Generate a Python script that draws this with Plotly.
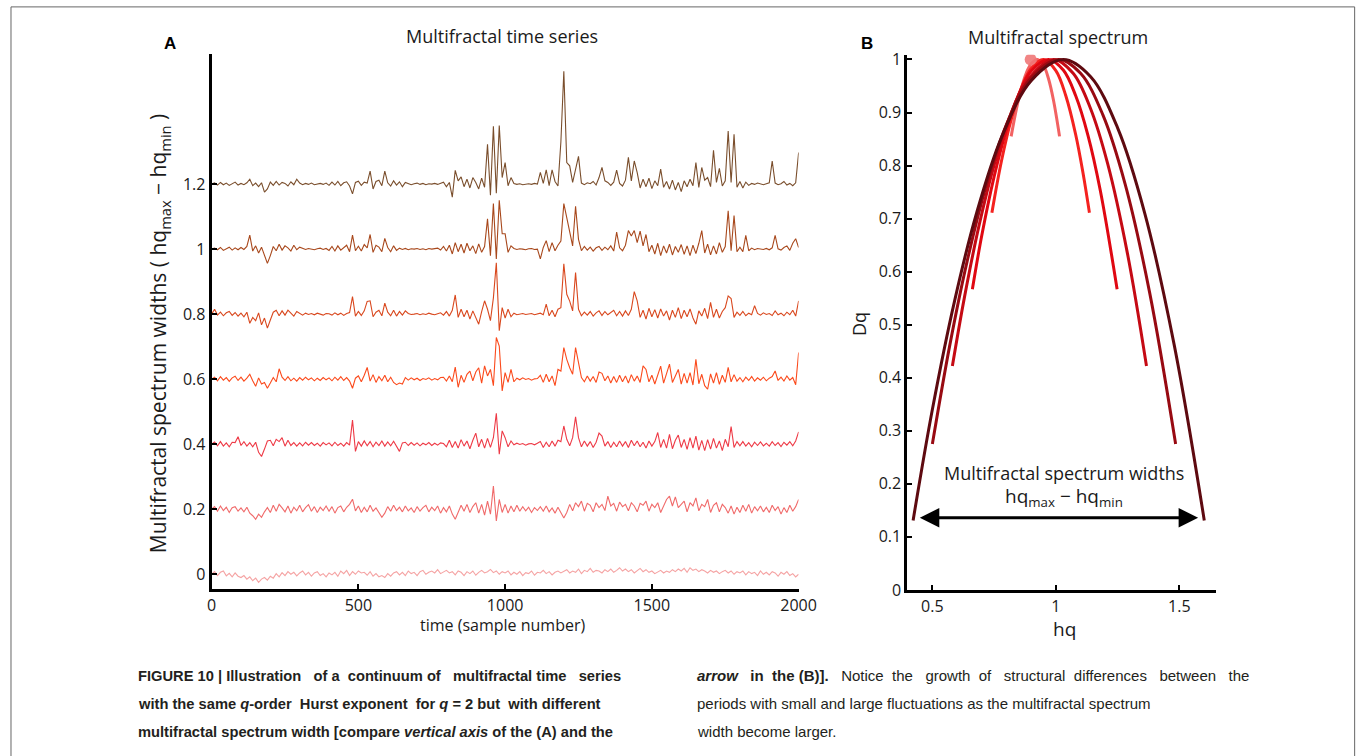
import plotly.graph_objects as go

# reference canvas is 1356x756; the page is photographed slightly reduced, so the graph is drawn a bit
# larger and every position (given in reference pixels) is mapped through the measured page scale.
W_FIG, H_FIG = 1376, 766
SX, OX = 0.985, 2.0
SY, OY = 0.981, 5.1

# ---------------- Panel A data: time series (deviation from offset, in 1/1000 units) -------------
sample_step = 10
t_samples = list(range(0, 2001, sample_step))
offsets = [0.0, 0.2, 0.4, 0.6, 0.8, 1.0, 1.2]

s00 = [0, 8, -4, 6, 10, -5, 3, -8, 4, -6, -10, -4, -15, -8, -20, -12, -25, -15, -10, -18,
       -6, -12, 2, -8, 5, -4, 8, 0, 6, -5, 4, 10, -2, 6, -6, 4, 8, -4, 2, -8,
       4, -2, 6, -6, 10, 2, 12, -4, 8, 0, 10, 4, 6, -3, 8, -6, 2, -8, -4, -10,
       2, -6, 4, 8, -2, 6, -4, 10, 2, 6, -4, 8, 12, 0, 6, 10, 4, 14, 2, 8,
       12, 4, 8, -2, 10, 6, -4, 8, 2, 10, -3, 6, 12, 4, 8, 15, 5, 10, 0, 8,
       4, 10, -2, 6, 0, 8, -4, 5, 2, 10, -3, 6, 4, 12, 2, 8, -2, 6, 10, 4,
       8, 14, 4, 10, 6, 16, 2, 12, 8, 18, 6, 12, 10, 4, 14, 8, 16, 6, 12, 20,
       10, 16, 8, 14, 4, 12, 18, 8, 14, 6, 10, 2, 8, 12, 4, 10, 6, 14, 8, 16,
       10, 18, 6, 20, 12, 16, 8, 14, 10, 4, 12, 6, 10, 2, 8, 12, 4, 10, 0, 8,
       4, 10, -2, 8, 2, 6, -4, 10, 0, 6, -2, 8, 4, -6, 6, 0, 8, -4, 2, -8, 0]

s02 = [0, 8, -6, 10, -4, 6, -10, 5, 8, -6, 4, -8, 6, -12, -20, -31, -15, -25, -8, 5,
       -10, 12, -6, 15, 4, -8, 10, -12, 6, -5, 12, -8, 5, 14, -6, 8, -10, 6, -4, 10,
       -6, 8, -12, 5, 10, -8, 6, 15, 31, -5, 10, -10, 6, -8, 12, -6, 4, -10, -25, -12,
       8, -6, 12, -4, 6, -8, 10, -5, 4, -10, 8, -6, 5, 12, -8, 6, -4, 10, -12, 5,
       -8, 10, -15, -31, -10, 12, -6, 15, -10, 8, 20, -12, 15, -18, 25, -15, 71, -36, 30, -10,
       15, -12, 10, -8, 12, -6, 8, -5, 6, -10, 5, -4, 8, -6, 10, -8, 4, -12, 6, -10,
       -27, -10, 15, -5, 20, 8, 25, -6, 18, 12, -8, 20, 5, 15, -4, 40, 10, 18, -6, 22,
       8, 15, -5, 20, 10, -8, 18, 12, 25, -6, 15, 5, 20, -10, 12, 30, 40, 10, 38, 5,
       15, 25, -8, 20, 10, 35, -5, 15, 8, 30, -10, 12, 20, -8, 15, 5, -12, 10, -15, 6,
       -10, 12, -6, 15, -12, 8, -5, 10, -8, 6, -10, 12, -4, 8, -15, 5, -10, 12, -6, 8, 30]

s04 = [0, 7, -5, 8, -6, 4, -8, 6, 5, 23, -4, 8, -6, 5, -8, 6, -25, -38, -15, 10,
       12, -5, 15, 8, 20, -6, 12, -4, 5, -6, 4, -5, 6, -3, 5, -4, 3, -6, 5, -2,
       4, -5, 6, -4, 3, -6, 5, -3, 74, -22, 8, -6, 10, -5, 8, -8, 6, -4, 10, -6,
       7, -5, 9, -8, -22, 4, 6, -4, 5, -3, 4, -5, 3, -2, 5, -4, 3, -3, 4, 2,
       -8, 12, -10, 8, -12, 14, -6, 10, -14, 12, 34, -8, 15, -12, 18, -10, 20, 95, -31, 41,
       20, -8, 10, -2, 3, -1, 2, -3, 1, 2, -2, 3, 8, -10, 6, -8, 10, -6, 12, 8,
       56, 15, -5, 20, 84, 20, -8, 10, -6, 8, -10, 6, 34, 25, -6, 8, -10, 6, -8, 10,
       -6, 8, -10, 12, -5, 10, -8, 6, -12, 10, -6, 8, 36, -10, 15, -12, 30, -14, 12, 28,
       -10, 15, -16, 20, -12, 25, -18, 12, -20, 14, -15, 18, -12, 10, -20, 15, -8, 54, -10, 8,
       -5, 8, -6, 5, -8, 6, -4, 7, -5, 3, -6, 8, -4, 5, -7, 6, -3, 8, -5, 10, 38]

s06 = [0, 6, -5, 8, -3, 5, -7, 4, 9, -4, 6, -6, 3, 15, -5, -22, 4, -15, -10, -28,
       -12, 5, -8, 32, 6, -4, 8, -5, 3, -6, 5, -3, 6, -2, 4, -5, 3, -4, 5, -2,
       4, -5, 6, -3, 8, -4, 5, -6, -28, 3, 10, -8, 12, 36, -6, 14, -10, 8, -5, 12,
       -8, 6, -10, -17, -12, -15, 5, -3, 4, -2, 3, -4, 2, -1, 4, -3, 2, -2, 5, 6,
       -6, 10, -8, 37, -25, 12, -10, 15, 25, -5, 22, 35, -12, 41, 10, 30, -20, 128, 102, -36,
       20, -10, 30, -8, 3, -2, 4, -1, 2, -3, 1, 2, 12, -10, 15, -8, 10, -20, 30, 25,
       97, 61, 35, 15, 97, 55, 5, -8, 10, -6, 8, -10, 22, 18, -5, 10, -12, 8, -10, 12,
       -8, 10, -12, 14, -6, 10, -10, 41, 30, -8, 12, -15, 10, 40, -12, 15, 46, -10, 8, 30,
       -15, 18, -12, 20, -18, 61, -14, 15, -20, -31, 16, -12, 20, -16, 12, -10, 36, -8, 14, -6,
       5, -8, 6, -4, 8, -6, 4, -3, 6, -5, 3, 8, 25, -4, 6, -6, 10, -3, 5, -17, 82]

s08 = [0, 15, -3, 6, -5, 4, 8, -4, 5, -6, 3, -8, 6, -28, -10, -20, 4, -33, -12, -43,
       -18, 6, 12, -5, 10, -3, 12, 4, -6, 8, 2, -3, 3, -1, 2, -2, 3, 0, -3, 2,
       1, -3, 4, -2, 3, -4, 2, 5, 54, -6, 8, -4, 10, 39, 41, -8, 6, 12, -5, 34,
       6, -5, 12, -6, 8, -3, 10, 2, -1, 0, 2, -2, 1, -1, 3, 0, -2, 1, 4, -3,
       8, -6, 12, 59, -10, 15, -8, 12, -15, 10, -12, -31, 8, 41, 15, -20, 50, 158, -51, 20,
       -12, 15, -8, 3, -2, 1, 2, -1, 0, 2, -2, 1, 3, -2, 31, -5, 12, -8, 15, 20,
       155, 61, 40, 10, 128, 15, -5, 6, -3, 8, -6, 4, 10, -4, 8, -2, 6, 12, -5, 8,
       -6, 10, -4, 15, 69, 41, -10, 12, -15, 18, -8, 14, -12, 16, -6, 10, -18, 12, -10, 20,
       -14, 12, -8, 16, -12, -31, 10, -6, 18, -14, 36, -10, 15, -12, 8, 20, 56, 48, -10, 6,
       -4, 8, -5, 3, -2, 26, 2, -3, 4, -1, 2, -4, 10, -2, 3, -5, 6, -2, 12, -6, 41]

s10 = [0, 3, -2, 5, -4, 2, 6, -3, 4, -2, 5, -1, 8, 43, -6, 10, -12, 6, -18, -44,
       -20, 8, -5, 15, -3, 10, 4, -6, 12, -2, 6, 2, -1, 2, 0, -2, 1, 3, -1, 2,
       -4, 8, -6, 10, -3, 6, 12, -8, 43, -5, 9, -6, 14, 4, 45, -10, 12, 6, -8, 33,
       5, -8, 10, -4, 3, -1, 2, -2, 1, 0, 2, -1, 1, -2, 2, 0, 1, 3, -3, 8,
       -6, 12, -15, 20, -8, 15, -12, 18, -5, 10, -14, 16, -10, 8, 93, -20, 140, -30, 150, 47,
       47, -10, 10, 2, -1, 1, 0, -2, 1, 2, -1, 0, -30, 5, 26, -8, 20, -5, 12, 25,
       140, 93, 47, 10, 132, 30, -5, 8, -3, 6, -6, 4, 8, -4, 6, -2, 10, -6, 52, 4,
       -5, 12, 57, 40, 57, 20, 55, 10, 45, -8, 12, -15, 18, -20, 10, -12, 15, -18, 8, -10,
       14, -16, 10, -20, 12, -14, 18, 57, -12, 15, -18, 10, -15, 20, -10, 8, 118, -5, 103, -8,
       6, -8, 42, -5, 3, -2, 2, 0, -1, 2, -2, 4, 42, 1, -3, 5, 10, -4, 18, 32, 5]

s12 = [0, 4, -3, 5, -2, 3, -4, 2, 6, -3, 2, -2, 4, 15, -5, 3, -8, 4, -25, -15,
       6, -4, 8, -3, 5, 2, -6, 7, -2, 15, 3, -2, 2, -1, 3, -2, 1, 2, -1, 3,
       -4, 6, -3, 8, -5, 4, 7, -6, -30, 5, 9, -4, 6, 3, 40, -15, 8, 12, -5, 40,
       4, -6, 10, -3, 7, -8, 5, 2, -2, 1, 3, -1, 2, -2, 1, 0, 2, -1, 3, 6,
       -8, 5, -40, 42, 10, 22, -8, 15, -12, 20, 5, -15, 18, -10, 122, -34, 178, -28, 180, 20,
       66, -5, 20, 2, -1, 1, -2, 0, 1, -1, 2, 0, 36, 2, 44, -5, 44, 8, -6, 130,
       347, 66, 56, 5, 50, 85, 3, -2, 4, 1, 8, -3, 20, 51, 10, 5, -4, 6, 43, 2,
       -6, 12, 82, 10, 71, 35, -12, 15, -8, 18, -14, 10, -5, 46, -10, 8, -15, 12, -18, 5,
       -23, 10, -8, 15, -5, 66, -10, 51, 12, 20, -8, 104, 5, 48, -6, 10, 163, 5, 153, -10,
       8, -12, 6, -4, 2, -1, 3, 0, -2, 1, 4, 71, 3, -2, 1, 8, -3, 2, -5, 4, 97]

series_dev = [s00, s02, s04, s06, s08, s10, s12]
series_colors = ["#f5a3a3", "#f06a6a", "#ee3a46", "#fb4a1c", "#d9481e", "#a8481c", "#7a4e2c"]

x_ticks_a = [0, 500, 1000, 1500, 2000]
y_ticks_a = [0, 0.2, 0.4, 0.6, 0.8, 1.0, 1.2]
y_ticktext_a = ["0", "0.2", "0.4", "0.6", "0.8", "1", "1.2"]

# ---------------- Panel B data: multifractal spectra -------------
hq_c1 = [0.819, 0.84, 0.86, 0.88, 0.90, 0.925, 0.95, 0.97, 0.99, 1.015]
dq_c1 = [0.855, 0.906, 0.945, 0.974, 0.992, 1.0, 0.989, 0.964, 0.924, 0.855]
hq_c2 = [0.741, 0.78, 0.82, 0.86, 0.90, 0.95, 1.0, 1.04, 1.08, 1.11, 1.136]
dq_c2 = [0.711, 0.809, 0.888, 0.946, 0.983, 1.0, 0.979, 0.932, 0.859, 0.786, 0.711]
hq_c3 = [0.662, 0.70, 0.75, 0.80, 0.85, 0.90, 0.97, 1.03, 1.08, 1.13, 1.18, 1.248]
dq_c3 = [0.567, 0.668, 0.779, 0.868, 0.934, 0.978, 1.0, 0.980, 0.932, 0.857, 0.753, 0.567]
hq_c4 = [0.581, 0.63, 0.69, 0.75, 0.81, 0.88, 0.99, 1.07, 1.14, 1.21, 1.29, 1.367]
dq_c4 = [0.422, 0.552, 0.689, 0.801, 0.888, 0.958, 1.0, 0.974, 0.908, 0.803, 0.634, 0.422]
hq_c5 = [0.50, 0.57, 0.64, 0.72, 0.80, 0.89, 1.01, 1.10, 1.19, 1.28, 1.38, 1.485]
dq_c5 = [0.275, 0.460, 0.618, 0.766, 0.877, 0.960, 1.0, 0.974, 0.896, 0.766, 0.560, 0.275]
hq_c6 = [0.422, 0.50, 0.59, 0.68, 0.78, 0.90, 1.03, 1.14, 1.25, 1.36, 1.48, 1.601]
dq_c6 = [0.131, 0.340, 0.545, 0.712, 0.853, 0.960, 1.0, 0.968, 0.871, 0.710, 0.460, 0.131]
spectra = [(hq_c1, dq_c1), (hq_c2, dq_c2), (hq_c3, dq_c3), (hq_c4, dq_c4), (hq_c5, dq_c5), (hq_c6, dq_c6)]
spectrum_colors = ["#f26262", "#f4221f", "#e00812", "#c50a14", "#980a12", "#5e0a10"]
mono_hq = [0.898]
mono_dq = [1.0]

x_ticks_b = [0.5, 1, 1.5]
y_ticks_b = [0, 0.1, 0.2, 0.3, 0.4, 0.5, 0.6, 0.7, 0.8, 0.9, 1.0]
y_ticktext_b = ["0", "0.1", "0.2", "0.3", "0.4", "0.5", "0.6", "0.7", "0.8", "0.9", "1"]

arrow_left_hq, arrow_right_hq, arrow_dq = 0.443, 1.576, 0.136

# ---------------- Figure -------------
fig = go.Figure()
for off, dev, col in zip(offsets, series_dev, series_colors):
    fig.add_trace(go.Scatter(x=t_samples, y=[off + d / 1000.0 for d in dev], mode="lines",
                             line=dict(color=col, width=1.1), xaxis="x", yaxis="y",
                             hoverinfo="skip"))

for (hq, dq), col in zip(spectra, spectrum_colors):
    fig.add_trace(go.Scatter(x=hq, y=dq, mode="lines", line=dict(color=col, width=3, shape="spline"),
                             xaxis="x2", yaxis="y2", hoverinfo="skip"))
fig.add_trace(go.Scatter(x=mono_hq, y=mono_dq, mode="markers",
                         marker=dict(color="rgba(240,120,120,0.9)", size=12),
                         xaxis="x2", yaxis="y2", hoverinfo="skip"))


def px(x):
    return ((x - OX) / SX) / W_FIG


def py(y):
    return 1 - ((y - OY) / SY) / H_FIG


FONT = "Open Sans"
axis_common = dict(showline=True, linewidth=3, linecolor="black", ticks="inside",
                   ticklen=5, tickwidth=2, tickcolor="black", showgrid=False, zeroline=False,
                   tickfont=dict(family=FONT, size=16, color="#1a1a1a"), mirror=False)

fig.update_layout(
    width=W_FIG, height=H_FIG, margin=dict(l=0, r=0, t=0, b=0),
    paper_bgcolor="white", plot_bgcolor="white", showlegend=False,
    xaxis=dict(domain=[px(209), px(797)], range=[0, 2000], tickvals=x_ticks_a,
               anchor="y", **axis_common),
    yaxis=dict(domain=[py(590), py(52)], range=[-0.046, 1.601], tickvals=y_ticks_a,
               ticktext=y_ticktext_a, anchor="x", **axis_common),
    xaxis2=dict(domain=[px(906), px(1215)], range=[0.399, 1.648], tickvals=x_ticks_b,
                anchor="y2", **axis_common),
    yaxis2=dict(domain=[py(590.7), py(53)], range=[0, 1.009], tickvals=y_ticks_b,
                ticktext=y_ticktext_b, anchor="x2", **axis_common),
)

ann = []
def text(x, y, s, size, family=FONT, angle=0, xanchor="center", color="#1a1a1a"):
    ann.append(dict(x=px(x), y=py(y), xref="paper", yref="paper", text=s, showarrow=False,
                    xanchor=xanchor, yanchor="middle", textangle=angle,
                    font=dict(family=family, size=size, color=color)))

text(167, 42, "<b>A</b>", 17, family="Liberation Sans", color="black")
text(866, 42, "<b>B</b>", 17, family="Liberation Sans", color="black")
text(500, 34, "Multifractal time series", 18)
text(1057, 35, "Multifractal spectrum", 18)
text(500, 626, "time (sample number)", 16)
text(157, 333, "Multifractal spectrum widths ( hq<sub>max</sub> − hq<sub>min</sub> )", 21, angle=-90)
text(1063, 630, "hq", 19)
text(858, 324, "Dq", 18, angle=-90)
text(1063, 473, "Multifractal spectrum widths", 18)
text(1063, 497, "hq<sub>max</sub> − hq<sub>min</sub>", 19)

# double-headed arrow in panel B
ann.append(dict(x=arrow_right_hq, y=arrow_dq, ax=arrow_left_hq, ay=arrow_dq,
                xref="x2", yref="y2", axref="x2", ayref="y2", text="", showarrow=True,
                arrowhead=2, arrowside="end+start", arrowsize=1.3, arrowwidth=3,
                arrowcolor="black"))

cap_font = "Liberation Sans"
cap_col = "#231f20"
S = "&nbsp; "
S2 = "&nbsp;&nbsp; "
text(133, 677, "<b>FIGURE 10 | Illustration" + S2 + "of a" + S + "continuum of" + S2 + "multifractal time" + S2 + "series</b>", 14.7,
     family=cap_font, xanchor="left", color=cap_col)
text(133, 705, "<b>with the same <i>q</i>-order" + S + "Hurst exponent" + S + "for <i>q</i> = 2 but" + S + "with different</b>", 14.7,
     family=cap_font, xanchor="left", color=cap_col)
text(133, 733, "<b>multifractal spectrum width [compare <i>vertical axis</i> of the (A) and the</b>", 14.7,
     family=cap_font, xanchor="left", color=cap_col)
text(693, 677, "<b><i>arrow</i>" + S2 + "in" + S + "the (B)].</b>" + S2 + "Notice" + S + "the" + S2 + "growth"
     + S + "of" + S2 + "structural" + S + "differences" + S2 + "between" + S2 + "the", 15,
     family=cap_font, xanchor="left", color=cap_col)
text(693, 705, "periods with small and large fluctuations as the multifractal spectrum", 15,
     family=cap_font, xanchor="left", color=cap_col)
text(693, 733, "width become larger.", 15, family=cap_font, xanchor="left", color=cap_col)

fig.update_layout(annotations=ann)
fig.add_shape(type="rect", xref="paper", yref="paper", x0=px(8), x1=px(1354), y0=py(775), y1=py(5),
              line=dict(color="#666666", width=1), fillcolor="rgba(0,0,0,0)")

fig.write_html("out.html",
               post_script="document.documentElement.style.overflow='hidden';document.body.style.overflow='hidden';")
